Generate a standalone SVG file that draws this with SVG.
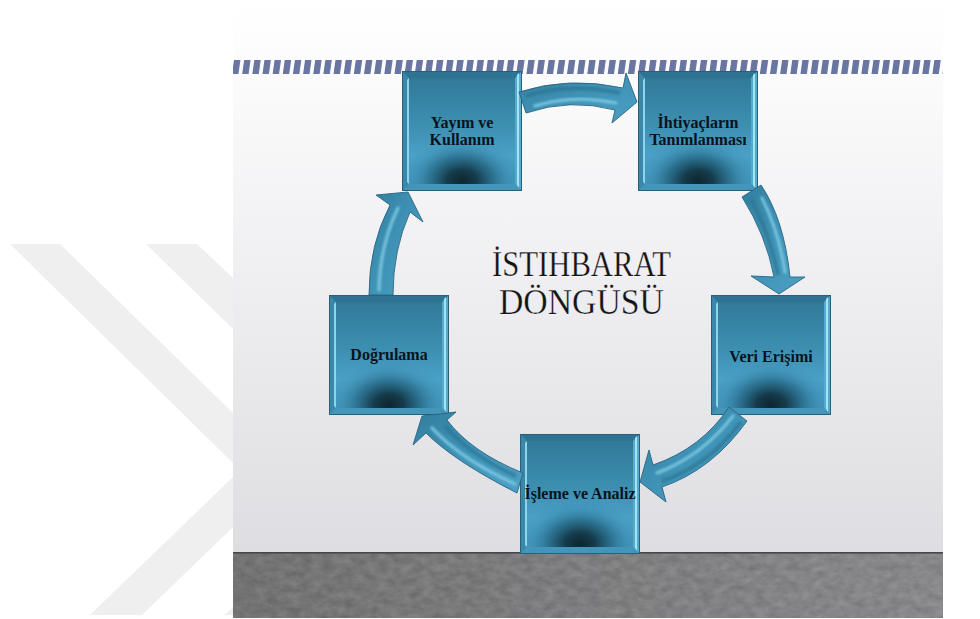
<svg xmlns="http://www.w3.org/2000/svg" width="980" height="619" viewBox="0 0 980 619">
<style>
.wm{fill:#efefef}
.lbl{font-family:"Liberation Serif","Times New Roman",serif;font-weight:bold;font-size:16px;fill:#08131c;text-anchor:middle}
.ttl{font-family:"Liberation Serif","Times New Roman",serif;font-size:36px;fill:#141416;stroke:#ffffff;stroke-width:.25px}
.arr{fill:url(#arrFill);stroke:#2b6480;stroke-width:.9;stroke-linejoin:miter}
.hl{fill:none;stroke:#7cc8e2;stroke-width:3.5;stroke-linecap:round;filter:url(#soft);opacity:.85}
.sh{fill:none;stroke:#2a6f8e;stroke-width:4;filter:url(#soft);opacity:.6}
</style>
<defs>
<linearGradient id="wall" x1="0" y1="0" x2="0" y2="1"><stop offset="0" stop-color="#ffffff"/><stop offset=".15" stop-color="#fbfbfc"/><stop offset="1" stop-color="#dedee2"/></linearGradient>
<linearGradient id="floorG" x1="0" y1="0" x2="1" y2="0"><stop offset="0" stop-color="#717171"/><stop offset=".5" stop-color="#7e7e80"/><stop offset="1" stop-color="#8a8a8d"/></linearGradient>
<linearGradient id="boxG" x1="0" y1="0" x2="0" y2="1"><stop offset="0" stop-color="#2f7695"/><stop offset=".45" stop-color="#3d8fb1"/><stop offset=".7" stop-color="#4aa0c6"/><stop offset="1" stop-color="#3f92b6"/></linearGradient>
<radialGradient id="boxD" gradientUnits="userSpaceOnUse" cx="60" cy="110" r="60" gradientTransform="translate(60 110) scale(1 .75) translate(-60 -110)"><stop offset="0" stop-color="#0e2530"/><stop offset=".25" stop-color="#153c4c"/><stop offset=".55" stop-color="#2a6f8e" stop-opacity=".85"/><stop offset=".82" stop-color="#3b8cb0" stop-opacity=".3"/><stop offset="1" stop-color="#3f92b6" stop-opacity="0"/></radialGradient>
<linearGradient id="arrFill" x1="0" y1="0" x2="1" y2="1"><stop offset="0" stop-color="#327d9e"/><stop offset=".5" stop-color="#3f93b6"/><stop offset="1" stop-color="#4ba0c4"/></linearGradient>
<pattern id="stripes" patternUnits="userSpaceOnUse" width="10.15" height="14" patternTransform="translate(234 60) skewX(-8)"><rect width="6.4" height="14" fill="#6a76a2"/></pattern>
<filter id="soft" x="-20%" y="-20%" width="140%" height="140%"><feGaussianBlur stdDeviation="1"/></filter>
<filter id="stone" x="0" y="0" width="100%" height="100%" color-interpolation-filters="sRGB">
<feTurbulence type="fractalNoise" baseFrequency=".09 .14" numOctaves="4" seed="7" result="n"/>
<feColorMatrix in="n" type="matrix" values="1 0 0 0 0 1 0 0 0 0 1 0 0 0 0 0 0 0 0 .14" result="g"/>
<feComposite in="g" in2="SourceGraphic" operator="in" result="c"/>
<feMerge><feMergeNode in="SourceGraphic"/><feMergeNode in="c"/></feMerge>
</filter>
<g id="box">
<rect width="120" height="120" fill="url(#boxG)"/>
<rect x="4" y="40" width="112" height="78" fill="url(#boxD)"/>
<polygon points="0,0 120,0 113,7 7,7" fill="#2f7393"/>
<polygon points="0,0 7,7 7,113 0,120" fill="#3a87a8"/>
<polygon points="5,9 7,7 7,113 5,111" fill="#8ed4ec"/>
<polygon points="120,0 113,7 113,113 120,120" fill="#55abcc"/>
<polygon points="115,4 117,2 117,117 115,114" fill="#a4e2f6"/>
<polygon points="0,120 7,113 113,113 120,120" fill="#4395b9"/>
<rect x=".5" y=".5" width="119" height="119" fill="none" stroke="#2a5f79"/>
</g>
</defs>
<rect width="980" height="619" fill="#ffffff"/>
<g id="watermark">
<polygon class="wm" points="10,244 60,244 233,413 233,463"/>
<polygon class="wm" points="90,615 233,477 233,527 142,615"/>
<polygon class="wm" points="146,244 197,244 233,278 233,329"/>
<polygon class="wm" points="224,615 233,607 233,615"/>
</g>
<g id="slide">
<rect x="233" y="0" width="710" height="553" fill="url(#wall)"/>
<rect x="233" y="60" width="710" height="14" fill="url(#stripes)"/>
<rect x="233" y="553" width="710" height="65" fill="url(#floorG)" filter="url(#stone)"/>
<rect x="233" y="552" width="710" height="1.6" fill="#47474a"/>
</g>
<g id="title">
<text class="ttl" x="492" y="276" textLength="179" lengthAdjust="spacingAndGlyphs">İSTIHBARAT</text>
<text class="ttl" x="499" y="314" textLength="165" lengthAdjust="spacingAndGlyphs">DÖNGÜSÜ</text>
</g>
<g id="node-yayim"><use href="#box" x="402" y="71"/><text class="lbl" x="462" y="128">Yayım ve</text><text class="lbl" x="462" y="145">Kullanım</text></g>
<g id="node-ihtiyac"><use href="#box" x="638" y="71"/><text class="lbl" x="698" y="128">İhtiyaçların</text><text class="lbl" x="698" y="145">Tanımlanması</text></g>
<g id="node-veri"><use href="#box" x="711" y="295"/><text class="lbl" x="771" y="362">Veri Erişimi</text></g>
<g id="node-isleme"><use href="#box" x="520" y="434"/><text class="lbl" x="580" y="499">İşleme ve Analiz</text></g>
<g id="node-dogrulama"><use href="#box" x="329" y="295"/><text class="lbl" x="389" y="360">Doğrulama</text></g>
<g id="connectors">
<g id="arrow-1">
<path class="arr" d="M519,92 Q569,76 623,88 L626,73 L637,102 L612,123 L615,110 Q570,98 526,113 Z"/>
<path class="sh" d="M526,96 Q570,82 620,93"/>
<path class="hl" d="M535,106 Q572,94 616,103"/>
</g>
<g id="arrow-2">
<path class="arr" d="M742,197 L761,185 Q784,219 790,277 L805,277 L779,294 L751,276 L774,277 Q766,235 742,197 Z"/>
<path class="sh" d="M751,199 Q769,232 778,275"/>
<path class="hl" d="M762,198 Q779,232 785,272"/>
</g>
<g id="arrow-3">
<path class="arr" d="M729,407 L747,421 Q712,470 662,487 L666,502 L640,482 L649,450 L653,465 Q702,448 729,407 Z"/>
<path class="hl" d="M733,416 Q702,456 657,473"/>
<path class="sh" d="M741,422 Q708,466 662,481"/>
</g>
<g id="arrow-4">
<path class="arr" d="M523,473 L517,493 Q454,461 426,433 L413,445 L422,416 L456,412 L447,420 Q471,452 523,473 Z"/>
<path class="sh" d="M516,476 Q470,455 445,426"/>
<path class="hl" d="M515,484 Q462,460 432,428"/>
</g>
<g id="arrow-5">
<path class="arr" d="M369,295 Q369,245 390,205 L376,195 L408,192 L423,222 L410,212 Q393,250 393,295 Z"/>
<path class="hl" d="M379,290 Q380,245 398,208"/>
</g>
</g>
</svg>
